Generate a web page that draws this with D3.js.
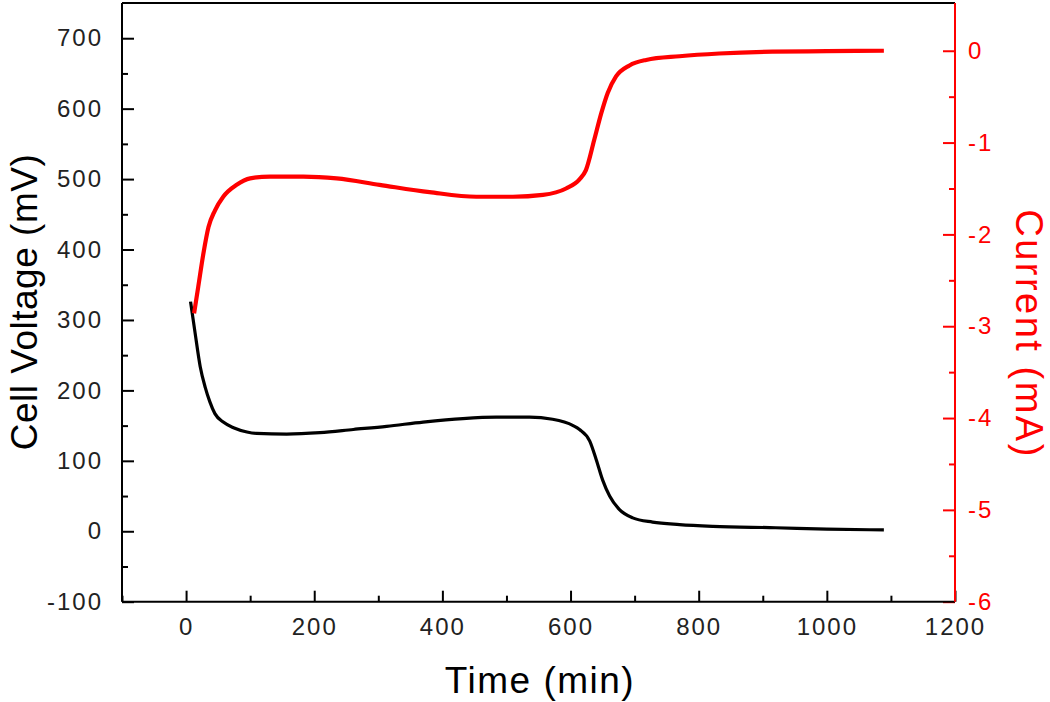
<!DOCTYPE html>
<html>
<head>
<meta charset="utf-8">
<script src="https://cdn.jsdelivr.net/npm/d3@7"></script>
<style>
  html, body { margin: 0; padding: 0; background: #fff; }
  svg { display: block; }
</style>
</head>
<body>
<svg id="chart" width="1050" height="702"></svg>
<script>
// Voltage series (time in min, mV)
const voltageTime = [7, 14, 22, 30, 37, 45, 58, 74, 95, 110, 157, 209, 261, 313, 370, 432, 484, 536, 572, 604, 614, 630, 640, 650, 661, 676, 697, 728, 770, 822, 920, 1000, 1089];
const voltageValue = [326, 282, 234, 204, 184, 167, 155, 147, 141, 139, 138, 140, 144.5, 149, 155, 160, 162, 162, 159, 150, 144.5, 128, 102, 73, 50, 31, 19, 13, 9.5, 7, 5, 3, 2];
// Current series (time in min, mA)
const currentTime = [12.5, 19, 27, 35, 45, 58, 79, 100, 131, 183, 235, 302, 380, 453, 510, 557, 593, 614, 624, 637, 648, 658, 671, 692, 718, 770, 832, 915, 1000, 1089];
const currentValue = [-2.86, -2.57, -2.21, -1.92, -1.74, -1.59, -1.46, -1.39, -1.37, -1.37, -1.39, -1.46, -1.54, -1.59, -1.59, -1.57, -1.50, -1.40, -1.30, -0.97, -0.68, -0.46, -0.28, -0.16, -0.10, -0.06, -0.03, -0.01, -0.005, 0.0];

const xTicks = [0, 200, 400, 600, 800, 1000, 1200];
const xMinor = [-100, 100, 300, 500, 700, 900, 1100];
const yLeftTicks = [-100, 0, 100, 200, 300, 400, 500, 600, 700];
const yLeftMinor = [-50, 50, 150, 250, 350, 450, 550, 650];
const yRightTicks = [-6, -5, -4, -3, -2, -1, 0];
const yRightMinor = [-5.5, -4.5, -3.5, -2.5, -1.5, -0.5];

const svg = d3.select("#chart");
const L = 122, R = 955, T = 3, B = 601.7;

const x = d3.scaleLinear().domain([-100, 1200]).range([L, R]);
const yL = d3.scaleLinear().domain([-100, 750]).range([B, T]);
const yR = d3.scaleLinear().domain([-6, 0.52]).range([B, T]);

const font = "'Liberation Sans', Arial, sans-serif";
const fmt = d => String(d);

// Data lines
const vData = voltageTime.map((t, i) => [t, voltageValue[i]]);
const cData = currentTime.map((t, i) => [t, currentValue[i]]);

svg.append("path")
  .datum(vData)
  .attr("fill", "none").attr("stroke", "#000").attr("stroke-width", 3.2)
  .attr("d", d3.line().x(d => x(d[0])).y(d => yL(d[1])).curve(d3.curveMonotoneX));

svg.append("path")
  .datum(cData)
  .attr("fill", "none").attr("stroke", "#ff0000").attr("stroke-width", 4.2)
  .attr("d", d3.line().x(d => x(d[0])).y(d => yR(d[1])).curve(d3.curveMonotoneX));

// Axes
function styleAxis(g, color, textColor) {
  g.select(".domain").remove();
  g.selectAll(".tick line").attr("stroke", color).attr("stroke-width", 2);
  g.selectAll(".tick text").attr("fill", textColor)
    .style("font-family", font).style("font-size", "24px").style("letter-spacing", "2px");
}

// Bottom axis (ticks inward)
svg.append("g").attr("transform", `translate(0,${B})`)
  .call(d3.axisBottom(x).tickValues(xTicks).tickSize(-11).tickPadding(16).tickFormat(fmt))
  .call(g => styleAxis(g, "#000", "#222"));
svg.append("g").attr("transform", `translate(0,${B})`)
  .call(d3.axisBottom(x).tickValues(xMinor).tickSize(-6).tickFormat(""))
  .call(g => styleAxis(g, "#000", "#222"));

// Left axis
svg.append("g").attr("transform", `translate(${L},0)`)
  .call(d3.axisLeft(yL).tickValues(yLeftTicks).tickSize(-12).tickPadding(19).tickFormat(fmt))
  .call(g => styleAxis(g, "#000", "#222"));
svg.append("g").attr("transform", `translate(${L},0)`)
  .call(d3.axisLeft(yL).tickValues(yLeftMinor).tickSize(-6).tickFormat(""))
  .call(g => styleAxis(g, "#000", "#222"));

// Right axis
svg.append("g").attr("transform", `translate(${R},0)`)
  .call(d3.axisRight(yR).tickValues(yRightTicks).tickSize(-12).tickPadding(13).tickFormat(fmt))
  .call(g => styleAxis(g, "#ff0000", "#ff0000"));
svg.append("g").attr("transform", `translate(${R},0)`)
  .call(d3.axisRight(yR).tickValues(yRightMinor).tickSize(-6).tickFormat(""))
  .call(g => styleAxis(g, "#ff0000", "#ff0000"));

// Frame lines
svg.append("line").attr("x1", L).attr("x2", R).attr("y1", T).attr("y2", T).attr("stroke", "#000").attr("stroke-width", 2);
svg.append("line").attr("x1", L).attr("x2", R).attr("y1", B).attr("y2", B).attr("stroke", "#000").attr("stroke-width", 2);
svg.append("line").attr("x1", L).attr("x2", L).attr("y1", T).attr("y2", B).attr("stroke", "#000").attr("stroke-width", 2);
svg.append("line").attr("x1", R).attr("x2", R).attr("y1", T).attr("y2", B).attr("stroke", "#ff0000").attr("stroke-width", 2);

// Titles
svg.append("text").attr("x", 540).attr("y", 693).attr("text-anchor", "middle")
  .style("font-family", font).style("font-size", "37px").style("letter-spacing", "1.5px").attr("fill", "#000")
  .text("Time (min)");
svg.append("text").attr("transform", "translate(37,302) rotate(-90)").attr("text-anchor", "middle")
  .style("font-family", font).style("font-size", "37px").style("letter-spacing", "0.5px").attr("fill", "#000")
  .text("Cell Voltage (mV)");
svg.append("text").attr("transform", "translate(1016,334) rotate(90)").attr("text-anchor", "middle")
  .style("font-family", font).style("font-size", "38px").style("letter-spacing", "2.5px").attr("fill", "#ff0000")
  .text("Current (mA)");
</script>
</body>
</html>
